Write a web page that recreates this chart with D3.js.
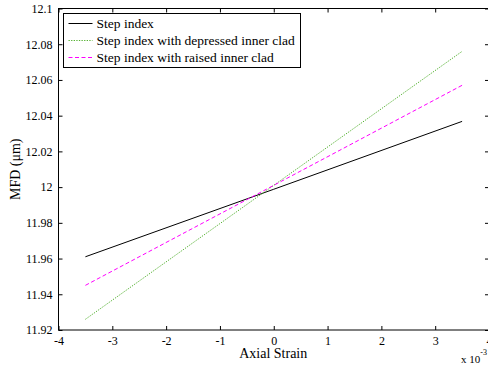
<!DOCTYPE html>
<html>
<head>
<meta charset="utf-8">
<script src="https://cdn.jsdelivr.net/npm/d3@7"></script>
<style>
  html, body { margin: 0; padding: 0; background: #fff; }
  svg { display: block; }
</style>
</head>
<body>
<div id="chart"></div>
<script>
// strain values (x 10^-3) where each curve was read
const strain = [-3.5, 0, 3.5];

const stepIndex = [11.961, 11.9988, 12.0368];
const depressedClad = [11.926, 12.001, 12.076];
const raisedClad = [11.945, 12.001, 12.057];

const seriesNames = [
  'Step index',
  'Step index with depressed inner clad',
  'Step index with raised inner clad'
];

const xTicks = [-4, -3, -2, -1, 0, 1, 2, 3, 4];
const yTicks = [11.92, 11.94, 11.96, 11.98, 12, 12.02, 12.04, 12.06, 12.08, 12.1];

const width = 488;
const height = 367;
const margin = { left: 58.5, right: -1, top: 8.5, bottom: 37 };
const serif = 'Liberation Serif';

const svg = d3.select('#chart')
  .append('svg')
  .attr('width', width)
  .attr('height', height)
  .attr('font-family', serif);

const x = d3.scaleLinear()
  .domain([-4, 4])
  .range([margin.left, width - margin.right]);

const y = d3.scaleLinear()
  .domain([11.92, 12.1])
  .range([height - margin.bottom, margin.top]);

const series = [
  { name: seriesNames[0], values: stepIndex, color: '#000000', dash: null },
  { name: seriesNames[1], values: depressedClad, color: '#55b232', dash: '1.3,1.3' },
  { name: seriesNames[2], values: raisedClad, color: '#ff00ff', dash: '4,2.5' }
];

// curves
const line = d3.line()
  .x((d, i) => x(strain[i]))
  .y(d => y(d));

svg.append('g')
  .selectAll('path')
  .data(series)
  .join('path')
  .attr('d', d => line(d.values))
  .attr('fill', 'none')
  .attr('stroke', d => d.color)
  .attr('stroke-width', 1)
  .attr('stroke-dasharray', d => d.dash);

// axes box with inward ticks on all four sides
const tickLen = 4;
const axes = svg.append('g');

axes.append('rect')
  .attr('x', x(-4))
  .attr('y', y(12.1))
  .attr('width', x(4) - x(-4))
  .attr('height', y(11.92) - y(12.1))
  .attr('fill', 'none')
  .attr('stroke', '#000')
  .attr('stroke-width', 1);

axes.append('g')
  .attr('transform', `translate(0,${y(11.92)})`)
  .call(d3.axisBottom(x).tickValues(xTicks).tickSizeInner(-tickLen).tickSizeOuter(0).tickPadding(6).tickFormat(d => String(d)))
  .call(g => g.select('.domain').remove());

axes.append('g')
  .attr('transform', `translate(0,${y(12.1)})`)
  .call(d3.axisTop(x).tickValues(xTicks).tickSizeInner(-tickLen).tickSizeOuter(0).tickFormat(''))
  .call(g => g.select('.domain').remove());

axes.append('g')
  .attr('transform', `translate(${x(-4)},0)`)
  .call(d3.axisLeft(y).tickValues(yTicks).tickSizeInner(-tickLen).tickSizeOuter(0).tickPadding(6).tickFormat(d => String(+d.toFixed(2))))
  .call(g => g.select('.domain').remove());

axes.append('g')
  .attr('transform', `translate(${x(4)},0)`)
  .call(d3.axisRight(y).tickValues(yTicks).tickSizeInner(-tickLen).tickSizeOuter(0).tickFormat(''))
  .call(g => g.select('.domain').remove());

axes.selectAll('g').attr('font-family', serif).attr('font-size', 12);
axes.selectAll('.tick line').attr('stroke', '#000').attr('stroke-width', 1);
axes.selectAll('.tick text').attr('fill', '#000');

// axis labels
svg.append('text')
  .attr('x', (x(-4) + x(4)) / 2 - 0.5)
  .attr('y', 358)
  .attr('text-anchor', 'middle')
  .attr('font-size', 14)
  .text('Axial Strain');

svg.append('text')
  .attr('transform', `translate(20,${(y(11.92) + y(12.1)) / 2}) rotate(-90)`)
  .attr('text-anchor', 'middle')
  .attr('font-size', 14)
  .text('MFD (\u03bcm)');

const mult = svg.append('text')
  .attr('x', 461)
  .attr('y', 362.5)
  .attr('font-size', 11);
mult.append('tspan').text('x 10');
mult.append('tspan').attr('dy', -8).attr('font-size', 8).text('-3');

// legend
const legend = svg.append('g').attr('transform', 'translate(63.5,13.5)');

legend.append('rect')
  .attr('width', 237)
  .attr('height', 54)
  .attr('fill', '#fff')
  .attr('stroke', '#000')
  .attr('stroke-width', 1);

const rows = legend.selectAll('g.row')
  .data(series)
  .join('g')
  .attr('class', 'row')
  .attr('transform', (d, i) => `translate(0,${10 + i * 17})`);

rows.append('line')
  .attr('x1', 5)
  .attr('x2', 29)
  .attr('stroke', d => d.color)
  .attr('stroke-width', 1)
  .attr('stroke-dasharray', d => d.dash);

rows.append('text')
  .attr('x', 33)
  .attr('y', 4.5)
  .attr('font-size', 13.5)
  .text(d => d.name);
</script>
</body>
</html>
